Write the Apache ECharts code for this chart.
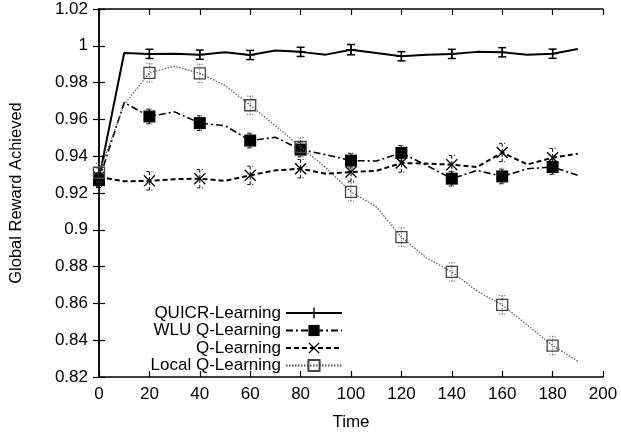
<!DOCTYPE html>
<html>
<head>
<meta charset="utf-8">
<script src="https://cdn.jsdelivr.net/npm/echarts@6/dist/echarts.min.js"></script>
<style>html,body{margin:0;padding:0;background:#fff}#c{width:621px;height:436px}</style>
</head>
<body>
<div id="c"></div>
<script>
const time = [0,10,20,30,40,50,60,70,80,90,100,110,120,130,140,150,160,170,180,190];
const quicr = [0.928,0.9961,0.9956,0.9957,0.9952,0.9965,0.995,0.9974,0.9967,0.9952,0.9979,0.9961,0.9943,0.9952,0.9956,0.9967,0.9965,0.9952,0.9957,0.9983];
const wlu = [0.927,0.9692,0.9616,0.9641,0.958,0.9566,0.9485,0.9503,0.9436,0.9408,0.9376,0.9374,0.9418,0.935,0.9278,0.9323,0.929,0.9332,0.9341,0.9296];
const qlearn = [0.9287,0.9264,0.9266,0.9275,0.9278,0.9266,0.9296,0.9323,0.9332,0.9305,0.9314,0.932,0.9363,0.936,0.9354,0.9341,0.942,0.9355,0.9392,0.9413];
const local = [0.931,0.968,0.9853,0.9889,0.985,0.9785,0.9677,0.9566,0.945,0.9338,0.9206,0.9126,0.896,0.8847,0.8771,0.8667,0.8592,0.8482,0.8371,0.8286];
const quicrErr = [0.0025,0.0025,0.0025,0.0025,0.0025,0.0028,0.0025,0.0025,0.0025,0.0025];
const wluErr = [0.004,0.004,0.004,0.004,0.004,0.004,0.004,0.004,0.004,0.004];
const qErr = [0.005,0.005,0.005,0.005,0.005,0.005,0.005,0.005,0.005,0.005];
const localErr = [0.005,0.005,0.005,0.005,0.005,0.005,0.005,0.005,0.005,0.005];
const names = ['QUICR-Learning','WLU Q-Learning','Q-Learning','Local Q-Learning'];
const xTicks = {min:0, max:200, interval:20};
const yTicks = {min:0.82, max:1.02, interval:0.02};

const FONT = 'Liberation Sans';
const plusPath = 'path://M4.4,0H5.6V4.4H10V5.6H5.6V10H4.4V5.6H0V4.4H4.4Z';
const crossPath = 'path://M0,0.8L0.8,0L5,4.2L9.2,0L10,0.8L5.8,5L10,9.2L9.2,10L5,5.8L0.8,10L0,9.2L4.2,5Z';

function lineData(vals){
  return time.map((t,i)=> i%2===0 ? [t, vals[i]] : {value:[t, vals[i]], symbol:'none'});
}
function errData(vals, errs){
  const out = [];
  time.forEach((t,i)=>{ if(i%2===0){ const e = errs[i/2]; out.push([t, vals[i]-e, vals[i]+e]); } });
  return out;
}
function errRender(capW, style){
  return function(params, api){
    const x = api.value(0), lo = api.value(1), hi = api.value(2);
    const p1 = api.coord([x, lo]), p2 = api.coord([x, hi]);
    return {type:'group', children:[
      {type:'line', shape:{x1:p1[0],y1:p1[1],x2:p2[0],y2:p2[1]}, style:style},
      {type:'line', shape:{x1:p1[0]-capW,y1:p1[1],x2:p1[0]+capW,y2:p1[1]}, style:style},
      {type:'line', shape:{x1:p2[0]-capW,y1:p2[1],x2:p2[0]+capW,y2:p2[1]}, style:style}
    ]};
  };
}
function errSeries(name, vals, errs, capW, style, z){
  return {type:'custom', name:name+' err', data:errData(vals, errs), renderItem:errRender(capW, style),
    encode:{x:0, y:[1,2]}, z:z, silent:true};
}

const axisCommon = {
  axisLine:{show:true, lineStyle:{color:'#000', width:1.5}},
  axisTick:{show:true, inside:true, length:6, lineStyle:{color:'#000', width:1.2}},
  splitLine:{show:false}
};
const legendRow = (name, top) => ({
  data:[name], orient:'vertical', align:'right', right:278, top:top, padding:0,
  itemWidth:56, itemHeight:14, itemGap:0,
  textStyle:{fontFamily:FONT, fontSize:17, color:'#000'}
});

const option = {
  animation:false,
  grid:{left:99, right:18, top:9, bottom:56},
  legend:[legendRow(names[0],304.5), legendRow(names[1],322), legendRow(names[2],339.5), legendRow(names[3],357)],
  xAxis:[
    Object.assign({type:'value', position:'bottom', name:'Time', nameLocation:'middle', nameGap:37,
      nameTextStyle:{fontFamily:FONT, fontSize:17, color:'#000'},
      axisLabel:{fontFamily:FONT, fontSize:17, color:'#000', margin:9}}, xTicks, axisCommon),
    Object.assign({type:'value', position:'top', axisLabel:{show:false}}, xTicks, axisCommon)
  ],
  yAxis:[
    Object.assign({type:'value', position:'left', name:'Global Reward Achieved', nameLocation:'middle', nameGap:74,
      nameTextStyle:{fontFamily:FONT, fontSize:16.5, color:'#000'},
      axisLabel:{fontFamily:FONT, fontSize:17, color:'#000', margin:11,
        formatter:v=>String(parseFloat(v.toFixed(2)))}}, yTicks, axisCommon),
    Object.assign({type:'value', position:'right', axisLabel:{show:false}}, yTicks, axisCommon)
  ],
  series:[
    {type:'line', name:names[0], data:lineData(quicr), symbol:plusPath, symbolSize:10, clip:false, z:3,
      itemStyle:{color:'#000'}, lineStyle:{color:'#000', width:2}},
    errSeries(names[0], quicr, quicrErr, 4, {stroke:'#000', lineWidth:1.5}, 3),
    {type:'line', name:names[1], data:lineData(wlu), symbol:'rect', symbolSize:12, clip:false, z:4,
      itemStyle:{color:'#000'}, lineStyle:{color:'#000', width:1.6, type:[7,3,2,3]}},
    errSeries(names[1], wlu, wluErr, 3, {stroke:'#000', lineWidth:1, lineDash:[3,1,1,1]}, 4),
    {type:'line', name:names[2], data:lineData(qlearn), symbol:crossPath, symbolSize:12, clip:false, z:5,
      itemStyle:{color:'#000'}, lineStyle:{color:'#000', width:2, type:[5,3]}},
    errSeries(names[2], qlearn, qErr, 3, {stroke:'#000', lineWidth:1, lineDash:[3,2]}, 5),
    {type:'line', name:names[3], data:lineData(local), symbol:'rect', symbolSize:11, clip:false, z:6,
      itemStyle:{color:'rgba(255,255,255,0)', borderColor:'#444', borderWidth:1.3},
      lineStyle:{color:'#555', width:1.2, type:[1.5,1.5]}},
    errSeries(names[3], local, localErr, 3, {stroke:'#555', lineWidth:1, lineDash:[1,1.5]}, 6)
  ]
};
const chart = echarts.init(document.getElementById('c'), null, {renderer:'canvas'});
chart.setOption(option);
</script>
</body>
</html>
